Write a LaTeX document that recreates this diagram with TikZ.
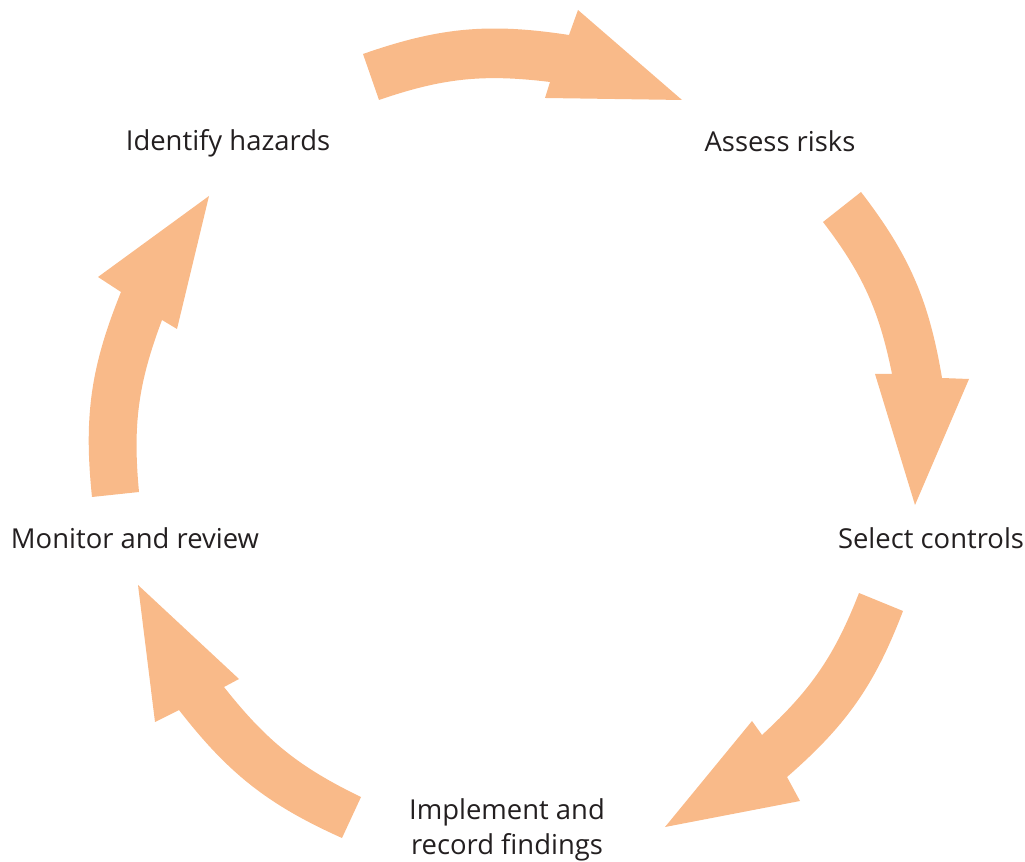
\documentclass[tikz,border=0pt]{standalone}
\usepackage{fontspec}
\setmainfont{Open Sans}
\definecolor{arroworange}{RGB}{249,186,137}
\definecolor{labelgray}{RGB}{35,31,32}

\begin{document}
\begin{tikzpicture}[x=0.01cm,y=0.01cm,
   cyclearrow/.style={fill=arroworange},
   steplabel/.style={font=\fontsize{7.8}{10}\selectfont,text=labelgray,align=center,inner sep=0pt}]
\useasboundingbox (0,0) rectangle (1025,861);
% arrows, each from inner tail corner, clockwise
\fill[cyclearrow] (379,761) -- (363,807) to[bend left=14] (569,826) -- (578,851)
   -- (682,761) -- (545,763) -- (550,779) to[bend right=13] (379,761) -- cycle;
\fill[cyclearrow] (823,639) -- (861,669) to[bend left=14] (942,483) -- (969,482)
   -- (915,356) -- (875,487) -- (892,487) to[bend right=13] (823,639) -- cycle;
\fill[cyclearrow] (859,268) -- (903,250) to[bend left=14] (787,84) -- (800,60)
   -- (665,34) -- (752,140) -- (762,126) to[bend right=13] (859,268) -- cycle;
\fill[cyclearrow] (361,64) -- (342,23) to[bend left=14] (179,151) -- (155,139)
   -- (138,276) -- (239,182) -- (224,174) to[bend right=13] (361,64) -- cycle;
\fill[cyclearrow] (139,369) -- (92,364) to[bend left=14] (121,569) -- (98,584)
   -- (209,665) -- (177,532) -- (162,541) to[bend right=13] (139,369) -- cycle;
% steps
\node[steplabel] (hazards) at (228,718) {Identify hazards};
\node[steplabel] (assess) at (780,720) {Assess risks};
\node[steplabel] (controls) at (931,323) {Select controls};
\node[steplabel] (implement) at (507,31) {Implement and\\record findings};
\node[steplabel] (monitor) at (135,323) {Monitor and review};
\end{tikzpicture}
\end{document}
